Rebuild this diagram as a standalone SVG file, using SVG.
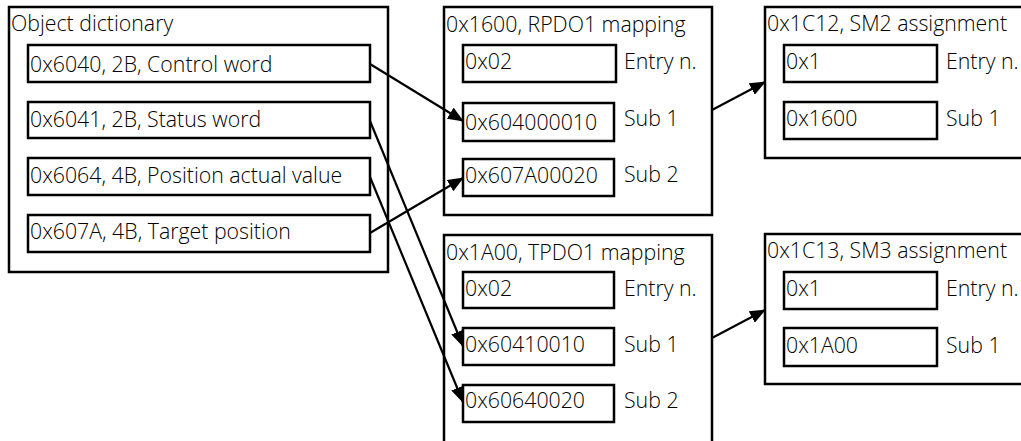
<svg xmlns="http://www.w3.org/2000/svg" width="1021" height="441" viewBox="0 0 1021 441">
<style>
.box{fill:#fff;stroke:#000;stroke-width:2.5}
.t{font-family:"Open Sans","Liberation Sans",sans-serif;font-weight:350;font-size:21.3px;fill:#000}
.c{stroke:#000;stroke-width:2.2;fill:none;marker-end:url(#ah)}
</style>
<defs>
<marker id="ah" markerWidth="16" markerHeight="13" refX="15" refY="6.5" orient="auto" markerUnits="userSpaceOnUse">
<path d="M0,0 L16,6.5 L0,13 Z" fill="#000"/>
</marker>
</defs>
<rect width="1021" height="441" fill="#fff"/>
<g id="od">
<rect class="box" x="9" y="7" width="379" height="265"/>
<text class="t" x="11" y="31">Object dictionary</text>
<rect class="box" x="28" y="45" width="342" height="37"/>
<text class="t" x="30" y="72">0x6040, 2B, Control word</text>
<rect class="box" x="28" y="102" width="342" height="36"/>
<text class="t" x="30" y="127">0x6041, 2B, Status word</text>
<rect class="box" x="28" y="158" width="342" height="37"/>
<text class="t" x="30" y="183">0x6064, 4B, Position actual value</text>
<rect class="box" x="28" y="215" width="342" height="37"/>
<text class="t" x="30" y="239">0x607A, 4B, Target position</text>
</g>
<g id="rpdo">
<rect class="box" x="444" y="7" width="268" height="208"/>
<text class="t" x="446" y="32">0x1600, RPDO1 mapping</text>
<rect class="box" x="463" y="45" width="153" height="37"/>
<text class="t" x="465" y="69">0x02</text>
<text class="t" x="624" y="69">Entry n.</text>
<rect class="box" x="463" y="103" width="151" height="38"/>
<text class="t" x="465" y="130">0x604000010</text>
<text class="t" x="624" y="126">Sub 1</text>
<rect class="box" x="463" y="159" width="151" height="37"/>
<text class="t" x="465" y="183">0x607A00020</text>
<text class="t" x="624" y="182">Sub 2</text>
</g>
<g id="sm2">
<rect class="box" x="765" y="7" width="270" height="151"/>
<text class="t" x="767" y="31">0x1C12, SM2 assignment</text>
<rect class="box" x="784" y="45" width="153" height="37"/>
<text class="t" x="786" y="69">0x1</text>
<text class="t" x="946" y="69">Entry n.</text>
<rect class="box" x="784" y="102" width="153" height="37"/>
<text class="t" x="786" y="126">0x1600</text>
<text class="t" x="946" y="126">Sub 1</text>
</g>
<g id="tpdo">
<rect class="box" x="444" y="235" width="268" height="220"/>
<text class="t" x="446" y="260">0x1A00, TPDO1 mapping</text>
<rect class="box" x="463" y="272" width="151" height="36"/>
<text class="t" x="465" y="296">0x02</text>
<text class="t" x="624" y="296">Entry n.</text>
<rect class="box" x="463" y="328" width="151" height="37"/>
<text class="t" x="465" y="352">0x60410010</text>
<text class="t" x="624" y="352">Sub 1</text>
<rect class="box" x="463" y="385" width="151" height="37"/>
<text class="t" x="465" y="408">0x60640020</text>
<text class="t" x="624" y="408">Sub 2</text>
</g>
<g id="sm3">
<rect class="box" x="765" y="234" width="270" height="150"/>
<text class="t" x="767" y="258">0x1C13, SM3 assignment</text>
<rect class="box" x="784" y="272" width="153" height="37"/>
<text class="t" x="786" y="296">0x1</text>
<text class="t" x="946" y="296">Entry n.</text>
<rect class="box" x="784" y="328" width="153" height="38"/>
<text class="t" x="786" y="353">0x1A00</text>
<text class="t" x="946" y="353">Sub 1</text>
</g>
<g id="connectors">
<line class="c" x1="370" y1="64" x2="463" y2="121"/>
<line class="c" x1="370" y1="121" x2="463" y2="346"/>
<line class="c" x1="370" y1="177" x2="463" y2="402"/>
<line class="c" x1="370" y1="233" x2="463" y2="178"/>
<line class="c" x1="712" y1="110" x2="765" y2="82"/>
<line class="c" x1="712" y1="338" x2="765" y2="310"/>
</g>
</svg>
